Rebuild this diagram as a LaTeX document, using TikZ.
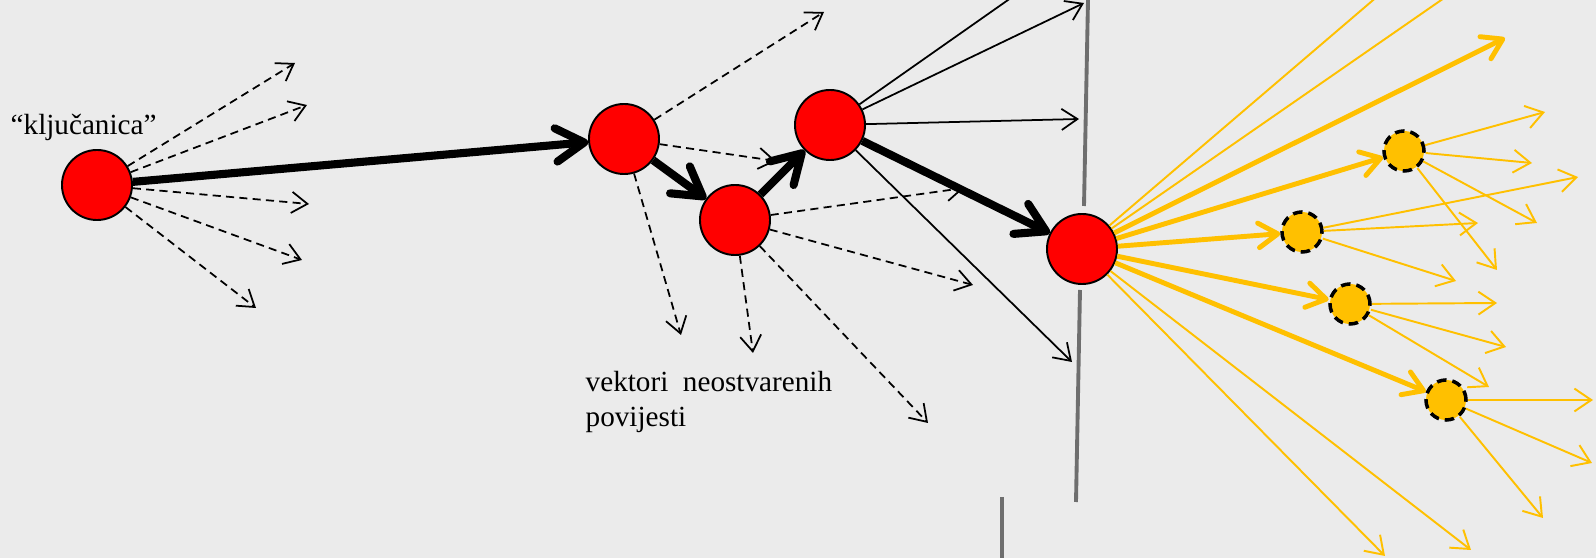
\documentclass[tikz,border=0pt]{standalone}
\usepackage{fontspec}
\setmainfont{Liberation Serif}
\usetikzlibrary{arrows.meta}
\definecolor{bg}{HTML}{EBEBEB}
\definecolor{gold}{HTML}{FFC000}
\definecolor{wallgray}{HTML}{6E6E6E}

\begin{document}
\begin{tikzpicture}[x=0.01cm, y=-0.01cm,
  redball/.style={circle, draw=black, line width=0.55pt, fill=red, minimum size=0.70cm, inner sep=0pt},
  goldball/.style={circle, draw=black, line width=1pt, dash pattern=on 2.7pt off 1.7pt, fill=gold, minimum size=0.40cm, inner sep=0pt},
  lost/.style={line width=0.5pt, dash pattern=on 2.3pt off 1.5pt, -{Straight Barb[length=4.5pt,width=6pt]}},
  ray/.style={line width=0.5pt, -{Straight Barb[length=4.5pt,width=6pt]}},
  hop/.style={line width=2.3pt, -{Straight Barb[length=8pt,width=9.5pt,round]}},
  goldray/.style={gold, line width=0.55pt, -{Straight Barb[length=4.8pt,width=6.5pt]}},
  goldhop/.style={gold, line width=1.4pt, -{Straight Barb[length=5.5pt,width=7pt,round]}},
  wall/.style={wallgray, line width=1.1pt},
  txt/.style={font=\fontsize{8.3}{10}\selectfont, inner sep=0pt, anchor=base west}]

\fill[bg] (0,0) rectangle (1596,558);
\useasboundingbox (0,0) rectangle (1596,558);
\clip (0,0) rectangle (1596,558);

\draw[wall] (1088,0) -- (1084,206);
\draw[wall] (1080,290) -- (1076,502);
\draw[wall] (1002,497) -- (1002,558);

\node[redball] (k) at (97,185) {};
\node[redball] (r1) at (624,139) {};
\node[redball] (r2) at (735,220) {};
\node[redball] (r3) at (830,125) {};
\node[redball] (r4) at (1082,249) {};
\node[goldball] (y1) at (1404,151) {};
\node[goldball] (y2) at (1302,232) {};
\node[goldball] (y3) at (1350,304) {};
\node[goldball] (y4) at (1446,400) {};

\node[txt] (kname) at (10,135) {“ključanica”};
\node[txt] (vek) at (585,392) {vektori~ neostvarenih};
\node[txt] (pov) at (585,427) {povijesti};

\coordinate (k1) at (295,63);
\coordinate (k2) at (307,105);
\coordinate (k3) at (309,204);
\coordinate (k4) at (302,260);
\coordinate (k5) at (256,308);
\coordinate (a1) at (824,12);
\coordinate (a2) at (776,161);
\coordinate (a3) at (681,335);
\coordinate (b1) at (964,188);
\coordinate (b2) at (973,285);
\coordinate (b3) at (753,353);
\coordinate (b4) at (928,423);
\coordinate (c1) at (1065,-40);
\coordinate (c2) at (1084,3);
\coordinate (c3) at (1079,119);
\coordinate (c4) at (1072,362);
\coordinate (d1) at (1420,-40);
\coordinate (d2) at (1499,-40);
\coordinate (d3) at (1505,38);
\coordinate (d4) at (1385,556);
\coordinate (d5) at (1471,550);
\coordinate (e1) at (1545,112);
\coordinate (e2) at (1532,163);
\coordinate (e3) at (1537,223);
\coordinate (e4) at (1497,270);
\coordinate (f1) at (1578,177);
\coordinate (f2) at (1478,223);
\coordinate (f3) at (1456,281);
\coordinate (g1) at (1497,303);
\coordinate (g2) at (1506,347);
\coordinate (g3) at (1489,387);
\coordinate (h1) at (1593,400);
\coordinate (h2) at (1592,463);
\coordinate (h3) at (1543,518);

\foreach \e in {k1,k2,k3,k4,k5} \draw[lost] (k) -- (\e);
\foreach \e in {a1,a2,a3} \draw[lost] (r1) -- (\e);
\foreach \e in {b1,b2,b3,b4} \draw[lost] (r2) -- (\e);
\foreach \e in {c1,c2,c3,c4} \draw[ray] (r3) -- (\e);

\foreach \e in {d1,d2,d4,d5} \draw[goldray] (r4) -- (\e);
\foreach \e in {e1,e2,e3,e4} \draw[goldray] (y1) -- (\e);
\foreach \e in {f1,f2,f3} \draw[goldray] (y2) -- (\e);
\foreach \e in {g1,g2,g3} \draw[goldray] (y3) -- (\e);
\foreach \e in {h1,h2,h3} \draw[goldray] (y4) -- (\e);
\foreach \e in {d3,y1,y2,y3,y4} \draw[goldhop] (r4) -- (\e);

\draw[hop] (k) -- (r1);
\draw[hop] (r1) -- (r2);
\draw[hop] (r2) -- (r3);
\draw[hop] (r3) -- (r4);
\end{tikzpicture}
\end{document}
